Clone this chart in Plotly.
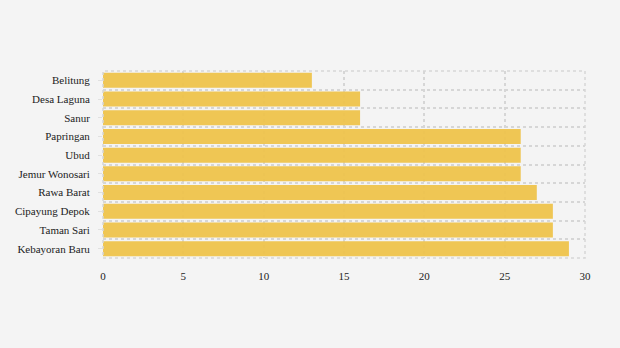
import plotly.graph_objects as go

categories = ["Belitung", "Desa Laguna", "Sanur", "Papringan", "Ubud",
              "Jemur Wonosari", "Rawa Barat", "Cipayung Depok", "Taman Sari", "Kebayoran Baru"]
values = [13, 16, 16, 26, 26, 26, 27, 28, 28, 29]
x_ticks = [0, 5, 10, 15, 20, 25, 30]

pos = list(range(len(categories)))
bounds = [p - 0.5 for p in pos] + [len(categories) - 0.5]

fig = go.Figure(go.Bar(
    x=values, y=pos, orientation="h",
    marker=dict(color="#EFC44C", line=dict(width=0)),
    opacity=0.95,
    hoverinfo="x+y",
))

grid_col = "#d6d6d6"
fig.update_layout(
    width=620, height=348,
    margin=dict(l=103, r=35, t=71, b=90),
    paper_bgcolor="#F4F4F4", plot_bgcolor="#F4F4F4",
    bargap=0.2,
    font=dict(family='"Liberation Serif", "Times New Roman", serif', size=11, color="#222222"),
    showlegend=False,
    shapes=[dict(type="rect", xref="x domain", yref="y domain", x0=0, x1=1, y0=0, y1=1,
                 line=dict(color=grid_col, width=1.5, dash="dot"), layer="above")],
)
fig.update_xaxes(
    range=[0, 30], tickvals=x_ticks, showgrid=True, gridcolor=grid_col,
    griddash="dot", gridwidth=1.5, zeroline=False, showline=False,
    ticks="", ticklabelstandoff=10,
)
fig.update_yaxes(
    range=[len(categories) - 0.5, -0.5], tickvals=pos, ticktext=categories,
    showgrid=False, zeroline=False, showline=False,
    ticks="outside", ticklen=4, tickcolor="#e0e0e0", tickwidth=1,
    ticklabelstandoff=6,
    minor=dict(tickvals=bounds, showgrid=True, gridcolor=grid_col,
               griddash="dot", gridwidth=1.5, ticks=""),
)

fig.write_html("out.html")
